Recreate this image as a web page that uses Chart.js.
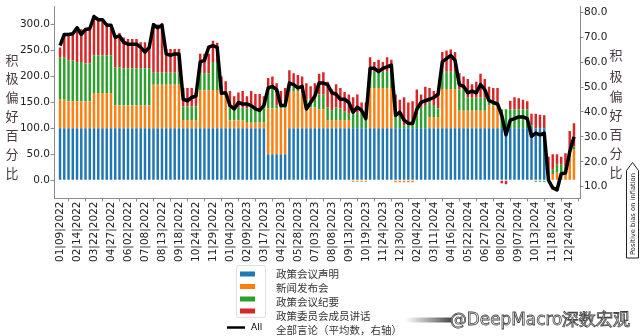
<!DOCTYPE html>
<html>
<head>
<meta charset="utf-8">
<script src="https://cdn.jsdelivr.net/npm/chart.js@4.4.1/dist/chart.umd.min.js"></script>
<style>
  html, body { margin: 0; padding: 0; background: #fff; }
  #wrap { width: 640px; height: 336px; position: relative; }
</style>
</head>
<body>
<div id="wrap"><canvas id="chart" width="640" height="336"></canvas></div>
<script>
// 横轴刻度（每4期一个）
const tickLabels = ['01|09|2022','02|14|2022','03|22|2022','04|27|2022','06|02|2022','07|08|2022','08|13|2022','09|18|2022','10|24|2022','11|29|2022','01|04|2023','02|09|2023','03|17|2023','04|22|2023','05|28|2023','07|03|2023','08|08|2023','09|13|2023','10|19|2023','11|24|2023','12|30|2023','02|04|2024','03|11|2024','04|16|2024','05|22|2024','06|27|2024','08|02|2024','09|07|2024','10|13|2024','11|18|2024','12|24|2024'];
const tickStep = 4;
const periods = Array.from({ length: 122 }, (_, i) => i);

// 政策会议声明
const statement = [
  100,100,100,100,100,100,100,100,100,100,
  100,100,100,100,100,100,100,100,100,100,
  100,100,100,100,100,100,100,100,100,100,
  100,100,100,100,100,100,100,100,100,100,
  100,100,100,100,100,100,100,100,100,50,
  50,50,50,50,100,100,100,100,100,100,
  100,100,100,100,100,100,100,100,100,100,
  100,100,100,100,100,100,100,100,100,100,
  100,100,100,100,100,100,100,100,100,100,
  100,100,100,100,100,100,100,100,100,100,
  100,100,100,100,100,100,100,100,100,100,
  100,100,100,100,100,0,0,0,0,0,
  0,0
];
// 新闻发布会
const pressConf = [
  55,55,52,52,52,52,52,52,68,68,
  68,68,68,44,44,44,44,44,44,44,
  44,44,84,84,84,84,84,84,84,16,
  16,16,16,73,73,73,74,74,66,66,
  15,15,15,15,11,11,11,11,11,88,
  88,88,88,88,72,72,72,72,40,40,
  40,37,37,16,16,16,16,16,16,-3,
  -3,-3,-3,78,78,78,78,78,78,-4,
  -4,-4,-4,-4,0,0,0,22,22,22,
  76,76,76,76,34,34,34,34,34,34,
  34,44,44,44,0,0,0,0,0,0,
  0,0,0,0,0,10,12,15,15,15,
  45,60
];
// 政策会议纪要
const minutes = [
  81,81,79,79,76,76,73,73,73,73,
  73,73,73,74,74,72,72,72,72,72,
  72,72,23,23,23,23,23,23,23,26,
  26,26,26,33,33,33,54,54,6,6,
  25,25,25,25,27,27,27,27,27,40,
  40,6,6,6,9,9,9,9,15,15,
  15,28,28,24,19,24,22,16,12,30,
  30,30,30,31,31,31,31,31,31,25,
  22,6,6,6,25,40,45,28,23,16,
  33,33,33,33,41,41,25,25,25,25,
  25,6,6,6,37,37,37,37,37,37,
  37,6,-3,-3,-3,0,8,15,15,12,
  10,5
];
// 政策委员会成员讲话
const speeches = [
  20,48,53,53,66,63,69,69,75,71,
  68,62,59,60,66,59,56,56,56,50,
  50,43,96,93,96,46,46,46,46,36,
  36,36,27,38,38,38,41,37,28,19,
  32,22,29,32,24,34,28,28,24,19,
  22,43,28,34,31,25,22,19,32,26,
  32,40,43,50,40,45,40,38,37,30,
  35,20,20,28,19,23,19,28,23,40,
  33,54,44,46,50,25,35,28,27,31,
  38,41,43,38,31,25,36,26,31,46,
  36,30,28,28,-6,-8,16,23,21,18,
  15,22,28,26,25,35,30,20,15,25,
  40,45
];
// 全部言论（平均数，右轴）
const allAvg = [
  66.6,71.1,71.1,71.4,73.8,71.1,73.1,73.4,78.3,77.0,
  77.0,74.8,74.8,69.9,70.5,67.9,67.2,67.2,67.2,65.9,
  64.0,65.9,75.0,73.8,74.8,63.3,62.7,63.3,63.3,45.1,
  44.5,45.8,46.4,60.1,60.7,66.0,66.6,65.9,47.5,47.7,
  42.6,41.2,43.8,43.2,43.2,42.5,41.2,40.6,42.6,49.7,
  50.3,49.0,42.6,42.6,51.6,51.0,49.7,50.3,41.2,43.8,
  46.4,51.6,51.6,51.0,47.7,47.1,45.1,45.1,43.8,39.9,
  41.9,40.6,37.3,57.5,57.5,56.2,57.5,58.1,58.8,38.6,
  39.9,36.7,35.4,35.4,41.0,43.8,44.5,45.1,45.8,47.1,
  60.1,61.4,62.7,60.7,51.0,50.3,47.7,48.4,47.7,51.0,
  49.0,44.5,43.8,43.2,38.6,30.8,36.7,37.3,38.0,38.0,
  37.3,30.2,31.5,30.8,31.5,12.6,9.5,8.7,15.2,15.5,
  24.0,30.0
];

const seriesNames = ['政策会议声明', '新闻发布会', '政策会议纪要', '政策委员会成员讲话'];
const seriesColors = ['#1f77b4', '#ff7f0e', '#2ca02c', '#d62728'];
const lineName = '全部言论（平均数，右轴）';
const yTicks = [0, 50, 100, 150, 200, 250, 300];
const y1Ticks = [10, 20, 30, 40, 50, 60, 70, 80];
const yTitle = '积极偏好百分比';

const axisColor = '#8c8c8c';
const tickFont = { family: 'DejaVu Sans', size: 10.5 };

// 纵向标题、图例、水印
const decorations = {
  id: 'decorations',
  afterDraw(chart) {
    const ctx = chart.ctx;
    ctx.save();
    // 纵向中文标题
    ctx.fillStyle = '#4a3a45';
    ctx.font = '13px "Noto Sans CJK SC"';
    ctx.textAlign = 'center';
    ctx.textBaseline = 'middle';
    const leftY = [60, 78.5, 97, 116.5, 135, 154.5, 173];
    const rightY = [55, 76, 96.5, 115, 134.5, 153, 172];
    [...yTitle].forEach((ch, i) => {
      ctx.fillText(ch, 12, leftY[i]);
      ctx.fillText(ch, 616, rightY[i]);
    });

    // Positive bias on inflation 箭头框
    ctx.strokeStyle = '#222';
    ctx.lineWidth = 1;
    ctx.beginPath();
    ctx.moveTo(626.5, 258);
    ctx.lineTo(626.5, 170.5);
    ctx.lineTo(632.5, 162.5);
    ctx.lineTo(638.5, 170.5);
    ctx.lineTo(638.5, 258);
    ctx.closePath();
    ctx.fillStyle = '#fff';
    ctx.fill();
    ctx.stroke();
    ctx.save();
    ctx.translate(632.8, 255);
    ctx.rotate(-Math.PI / 2);
    ctx.fillStyle = '#222';
    ctx.textAlign = 'left';
    ctx.textBaseline = 'middle';
    ctx.font = '6px "DejaVu Sans"';
    const bias = 'Positive bias on inflation';
    const bw = ctx.measureText(bias).width;
    ctx.font = (6 * 82 / bw).toFixed(2) + 'px "DejaVu Sans"';
    ctx.fillText(bias, 0, 0);
    ctx.restore();

    // 图例
    ctx.strokeStyle = '#dddddd';
    ctx.lineWidth = 1;
    ctx.beginPath();
    ctx.roundRect(236.5, 265.5, 29, 52, 2);
    ctx.stroke();
    const patchY = [274, 286.5, 299, 311];
    const textY = [274, 288.5, 302, 316.5];
    ctx.font = '10.5px "Noto Sans CJK SC"';
    ctx.textAlign = 'left';
    ctx.textBaseline = 'middle';
    seriesNames.forEach((name, i) => {
      ctx.fillStyle = seriesColors[i];
      ctx.fillRect(240, patchY[i] - 2.5, 15, 5);
      ctx.fillStyle = '#333';
      ctx.fillText(name, 276, textY[i]);
    });
    ctx.fillText(lineName, 276, 330);
    ctx.strokeStyle = '#000';
    ctx.lineWidth = 2.5;
    ctx.beginPath();
    ctx.moveTo(227, 327.5);
    ctx.lineTo(245, 327.5);
    ctx.stroke();
    ctx.fillStyle = '#000';
    ctx.font = '9px "DejaVu Sans"';
    ctx.fillText('All', 251, 327.5);

    // 水印
    const grad = ctx.createLinearGradient(405, 0, 452, 0);
    grad.addColorStop(0, 'rgba(80,80,80,0)');
    grad.addColorStop(1, 'rgba(60,60,60,0.95)');
    ctx.fillStyle = grad;
    ctx.fillRect(405, 317.5, 47, 5);
    const mark = '@DeepMacro深数宏观';
    ctx.font = '16px "DejaVu Sans"';
    const mw = ctx.measureText(mark).width;
    ctx.font = (16 * 180 / mw).toFixed(2) + 'px "DejaVu Sans"';
    ctx.lineWidth = 0.8;
    ctx.strokeStyle = '#444';
    ctx.fillStyle = '#fafafa';
    ctx.fillText(mark, 450, 320.5);
    ctx.strokeText(mark, 450, 320.5);
    ctx.restore();
  }
};

const barSets = [statement, pressConf, minutes, speeches].map((d, i) => ({
  type: 'bar',
  label: seriesNames[i],
  data: d,
  backgroundColor: seriesColors[i],
  borderWidth: 0,
  yAxisID: 'y',
  order: 1
}));

new Chart(document.getElementById('chart').getContext('2d'), {
  type: 'bar',
  data: {
    labels: periods,
    datasets: [
      ...barSets,
      {
        type: 'line',
        label: 'All',
        data: allAvg,
        yAxisID: 'y1',
        borderColor: '#000',
        borderWidth: 3.5,
        pointRadius: 0,
        tension: 0,
        borderJoinStyle: 'round',
        order: 0
      }
    ]
  },
  options: {
    responsive: false,
    animation: false,
    layout: { padding: { top: 2, left: 0, right: 0, bottom: 0 } },
    datasets: { bar: { barPercentage: 0.58, categoryPercentage: 1 } },
    plugins: { legend: { display: false }, tooltip: { enabled: false } },
    scales: {
      x: {
        type: 'linear',
        stacked: true,
        offset: false,
        min: -1.42,
        max: 122.42,
        afterBuildTicks: s => { s.ticks = tickLabels.map((_, i) => ({ value: i * tickStep })); },
        afterFit: s => { s.height = 138; },
        ticks: {
          autoSkip: false,
          minRotation: 90,
          maxRotation: 90,
          padding: 0,
          color: '#222',
          font: tickFont,
          callback: v => tickLabels[Math.round(v / tickStep)]
        },
        grid: { drawOnChartArea: false, drawTicks: true, tickLength: 3.5, color: axisColor },
        border: { display: true, color: axisColor }
      },
      y: {
        position: 'left',
        stacked: true,
        min: -34.3,
        max: 334.3,
        afterBuildTicks: s => { s.ticks = yTicks.map(v => ({ value: v })); },
        afterFit: s => { s.width = 54; },
        ticks: { padding: 0.5, color: '#222', font: tickFont, callback: v => Number(v).toFixed(1) },
        grid: { drawOnChartArea: false, drawTicks: true, tickLength: 3.5, color: axisColor },
        border: { display: true, color: axisColor }
      },
      y1: {
        position: 'right',
        stacked: false,
        min: 5.47,
        max: 82.2,
        afterBuildTicks: s => { s.ticks = y1Ticks.map(v => ({ value: v })); },
        afterFit: s => { s.width = 60; },
        ticks: { padding: 0.5, color: '#222', font: tickFont, callback: v => Number(v).toFixed(1) },
        grid: { drawOnChartArea: false, drawTicks: true, tickLength: 3.5, color: axisColor },
        border: { display: true, color: axisColor }
      }
    }
  },
  plugins: [decorations]
});
</script>
</body>
</html>
